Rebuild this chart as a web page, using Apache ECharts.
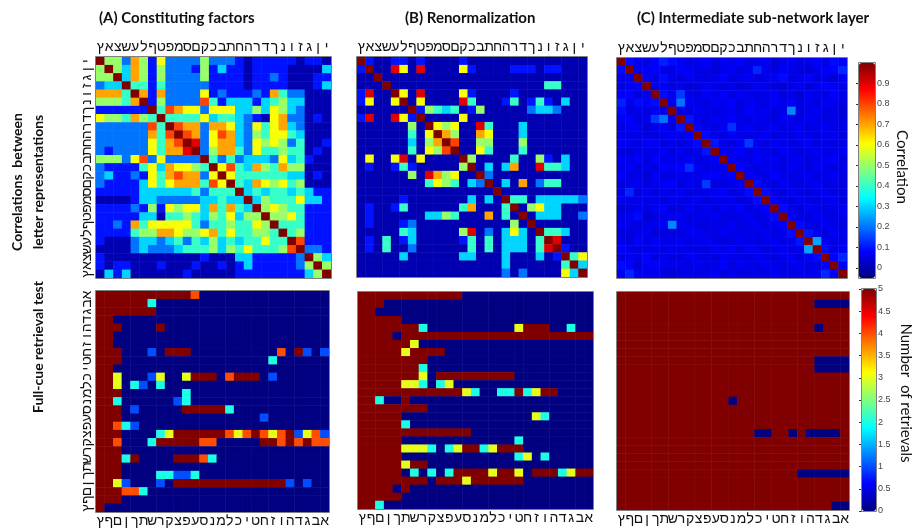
<!DOCTYPE html>
<html>
<head>
<meta charset="utf-8">
<script src="https://cdn.jsdelivr.net/npm/echarts@6/dist/echarts.min.js"></script>
<style>
  html, body { margin: 0; padding: 0; background: #fff; }
  #chart { width: 913px; height: 528px; }
</style>
</head>
<body>
<div id="chart"></div>
<script>
// Letter order of the correlation matrices (columns, left to right)
const topLetters = ['ץ','א','צ','ש','ע','ל','ף','ט','פ','מ','ס','ם','ק','כ','ב','ת','ח','ה','ר','ד','ך','נ','ו','ז','ג','ן','י'];
// Row labels of the correlation matrices (top to bottom)
const topRowLetters = ['י','ן','ג','ז','ו','נ','ך','ד','ר','ה','ח','ת','ב','כ','ק','ם','ס','מ','פ','ט','ף','ל','ע','ש','צ','א','ץ'];
// Letter order of the retrieval tables (columns, left to right)
const bottomLetters = ['ץ','ף','ם','ן','ך','ת','ש','ר','ק','צ','פ','ע','ס','נ','מ','ל','כ','י','ט','ח','ז','ו','ה','ד','ג','ב','א'];
// Row labels of the retrieval tables (top to bottom)
const bottomRowLetters = ['א','ב','ג','ד','ה','ו','ז','ח','ט','י','כ','ל','מ','נ','ס','ע','פ','צ','ק','ר','ש','ת','ך','ן','ם','ף','ץ'];

// (A) correlations, one string per row, each digit = tenths, X = 1
const corrFactors = [
  "X55275162222522210111110110",
  "5X5375152221513110111100003",
  "55X375152222511110112100011",
  "233X44142222211110111100013",
  "7774X7172222612111217422000",
  "55547X152222841333134533000",
  "111111X48766266633536532000",
  "6554754X4444634432106722010",
  "22222284X877277632646732000",
  "222222748X87268732546643000",
  "2222226478X9267732656524001",
  "21222264779X257742644544010",
  "555268262222X42423332634100",
  "2111146376654X6843754755000",
  "23112164787726X644444433010",
  "211113646777486X43765645000",
  "1111133333342444X3434434311",
  "00001332222233433X354446331",
  "111121516566374743X56544111",
  "1111133044543546355X5564111",
  "11217466666424454465X444111",
  "111145577655674644554X45111",
  "1000233234243534344644X8111",
  "00002322234445354644458X221",
  "100000000000100033111112X53",
  "1011000100010010131111125X5",
  "03130000001000001111111135X"
];

// (B) correlations after renormalization, same encoding
const corrRenorm = [
  "X10011010000100000000000000",
  "1X0096090000610000111011000",
  "00X000000000000000000000000",
  "000X00000000000000000044000",
  "1900X6090000610000100000000",
  "16006X060000940001401410300",
  "000000X15434015000002332000",
  "1900961X0000600000000000000",
  "00000050X656009400030000000",
  "000000406X75007600030000000",
  "0000003057X8005500050000000",
  "00000040658X006400040000000",
  "060069060000X50000400510300",
  "0100141000005X0303700944300",
  "00000050975600X200000000000",
  "000000004654032X03070244000",
  "0000000000000000X0000000000",
  "00000100000003030X440333332",
  "010014000000470004X05633000",
  "0100000033540007040X0333002",
  "01000120000000000050X000000",
  "000004300000590203630X44300",
  "0104013000001404033304X9000",
  "01040020000004040333049X100",
  "000003000000330003000301X46",
  "0000000000000000030000004X3",
  "00000000000000000202000063X"
];

// (C) correlations in the intermediate layer, hundredths
const corrLayer = [
  [100,9,6,5,8,11,9,7,5,6,8,5,7,6,8,5,6,7,4,6,7,5,6,8,5,9,7],
  [9,100,6,7,8,6,5,8,7,5,6,4,6,7,5,6,12,6,5,7,6,5,4,6,7,8,12],
  [6,6,100,7,5,9,6,5,7,6,5,6,8,5,6,7,5,6,7,9,5,6,8,5,6,4,7],
  [5,7,7,100,6,8,5,6,4,5,7,6,5,6,4,5,7,6,5,4,6,7,5,6,8,7,6],
  [8,8,5,6,100,9,7,14,6,5,7,6,8,5,7,6,5,6,7,5,6,4,7,6,5,8,6],
  [11,6,9,8,9,100,6,20,7,6,5,7,6,8,5,7,6,5,8,6,7,5,6,5,7,6,5],
  [9,5,6,5,7,6,100,6,5,7,6,5,6,7,5,8,6,7,5,6,22,5,6,7,5,6,4],
  [7,8,5,6,14,20,6,100,10,6,5,7,6,8,6,5,7,6,5,7,6,5,7,6,5,6,5],
  [5,7,7,4,6,7,5,10,100,8,6,5,7,13,6,7,5,6,7,5,6,7,5,6,7,5,6],
  [6,5,6,5,5,6,7,6,8,100,9,6,5,7,6,5,6,7,5,6,5,7,6,5,6,7,5],
  [8,6,5,7,7,5,6,5,6,9,100,10,6,5,7,14,6,5,7,6,5,6,7,5,6,5,6],
  [5,4,6,6,6,7,5,7,5,6,10,100,7,6,8,5,7,6,5,7,6,5,6,7,5,6,7],
  [7,6,8,5,8,6,6,6,7,5,6,7,100,7,6,5,8,6,7,5,6,7,5,6,7,8,5],
  [6,7,5,6,5,8,7,8,13,7,5,6,7,100,8,6,5,7,6,5,7,6,5,7,6,5,6],
  [8,5,6,4,7,5,5,6,6,6,7,8,6,8,100,7,6,5,8,6,5,6,7,5,6,7,5],
  [5,6,7,5,6,7,8,5,7,5,14,5,5,6,7,100,9,6,5,7,6,5,6,7,5,6,5],
  [6,12,5,7,5,6,6,7,5,6,6,7,8,5,6,9,100,9,6,5,7,6,5,6,7,5,6],
  [7,6,6,6,6,5,7,6,6,7,5,6,6,7,5,6,9,100,8,6,5,7,6,5,6,7,5],
  [4,5,7,5,7,8,5,5,7,5,7,5,7,6,8,5,6,8,100,9,6,5,7,6,5,6,7],
  [6,7,9,4,5,6,6,7,5,6,6,7,5,5,6,7,5,6,9,100,8,6,5,7,6,5,6],
  [7,6,5,6,6,7,22,6,6,5,5,6,6,7,5,6,7,5,6,8,100,9,6,5,7,6,5],
  [5,5,6,7,4,5,5,5,7,7,6,5,7,6,6,5,6,7,5,6,9,100,10,6,5,7,6],
  [6,4,8,5,7,6,6,7,5,6,7,6,5,5,7,6,5,6,7,5,6,10,100,25,7,5,6],
  [8,6,5,6,6,5,7,6,6,5,5,7,6,7,5,7,6,5,6,7,5,6,25,100,9,6,7],
  [5,7,6,8,5,7,5,5,7,6,6,5,7,6,6,5,7,6,5,6,7,5,7,9,100,8,12],
  [9,8,4,7,8,6,6,6,5,7,5,6,8,5,7,6,5,7,6,5,6,7,5,6,8,100,7],
  [7,12,7,6,6,5,4,5,6,5,6,7,5,6,5,5,6,5,7,6,5,6,6,7,12,7,100]
];

// Full-cue retrieval counts (0-5), one digit per cell
const retrFactors = [
  "555555555554000000000000000",
  "555555200000000000000000000",
  "555555500000000000000000000",
  "550000000000000000000000000",
  "555000050000000000000000000",
  "550000000000000000000000000",
  "550000000000000000000000000",
  "555000105550000000000405101",
  "555000000000000000002000000",
  "550000000000000000000000000",
  "553000130035550455501000000",
  "553021020000000000000000000",
  "555000000020000000000000000",
  "552000000120000000000000000",
  "555010000055555200000000000",
  "555000000000000000010000000",
  "554210000000000000000000000",
  "555000023555555434543451341",
  "554000255555440000055454544",
  "555000000000000000000000000",
  "555250000555420000000000000",
  "555000000000000000000000000",
  "555000022112000000000000000",
  "553100010555555555555510100",
  "555442000000000000000000000",
  "555000000000000000000000000",
  "500000000000000000000000000"
];

const retrRenorm = [
  "555555555555000000000000000",
  "555000000000000000000000000",
  "550000000000000000000000000",
  "555550000000000000000000000",
  "555555520000000000355500200",
  "555505555555555555555555555",
  "555555300000000000000000000",
  "555553555500000000000000000",
  "555555550000000000000000000",
  "555555520000000000000000000",
  "555555530555555555000000000",
  "555553320230000000000000000",
  "555555555555320022523550000",
  "552005000000000000000000000",
  "555555550000000000000000000",
  "555550000000000000003200000",
  "555552000000000000000000000",
  "555555555555500000000000000",
  "555550000000000000200000000",
  "555553332023552355500000000",
  "555550000000000000230200000",
  "555553550000000000000000000",
  "555550202025555355305552355",
  "555555550555355555500000000",
  "555505000000000000000000000",
  "555550000000000000000000000",
  "552000000000000000000000000"
];

const retrLayer = [
  "555555555555555555555555555",
  "555555555555555555555550000",
  "555555555555555555555555555",
  "555555555555555555555555555",
  "555555555555555555555550555",
  "555555555555555555555555555",
  "555555555555555555555555555",
  "555555555555555555555555555",
  "555555555555555555555550000",
  "555555555555555555555550000",
  "555555555555555555555555555",
  "555555555555555555555555555",
  "555555555555555555555555555",
  "555555555555505555555555555",
  "555555555555555555555555555",
  "555555555555555555555555555",
  "555555555555555555555555555",
  "555555555555555500550500005",
  "555555555555555555555555555",
  "555555555555555555555555555",
  "555555555555555555555555555",
  "555555555555555555555555555",
  "555555555555555555555000000",
  "555555555555555555555555555",
  "555555555555555555555555555",
  "555555555555555555555555555",
  "555555555555555555555555500"
];

// Colour-bar tick values
const corrTicks = [0, 0.1, 0.2, 0.3, 0.4, 0.5, 0.6, 0.7, 0.8, 0.9];
const retrTickStep = 0.5;

// Jet colour map stops (evenly spaced)
const JET = ['#000080', '#0000ff', '#0080ff', '#00ffff', '#80ff80', '#ffff00', '#ff8000', '#ff0000', '#800000'];

function fromTenths(rows) {
  const out = [];
  rows.forEach((row, r) => {
    Array.from(row).forEach((ch, c) => out.push([c, r, ch === 'X' ? 1 : Number(ch) / 10]));
  });
  return out;
}
function fromHundredths(rows) {
  const out = [];
  rows.forEach((row, r) => row.forEach((v, c) => out.push([c, r, v / 100])));
  return out;
}
function fromCounts(rows) {
  const out = [];
  rows.forEach((row, r) => {
    Array.from(row).forEach((ch, c) => out.push([c, r, Number(ch)]));
  });
  return out;
}

const LETTER_FONT = 'Liberation Sans, DejaVu Sans, sans-serif';
const TEXT_FONT = 'Lato, Open Sans, sans-serif';

// Panel rectangles: three correlation maps on top, three retrieval tables below
const panels = [
  { left: 96,  top: 57,  width: 235, height: 221 },
  { left: 357, top: 57,  width: 230, height: 220 },
  { left: 617, top: 58,  width: 230, height: 220 },
  { left: 96,  top: 291, width: 233, height: 221 },
  { left: 358, top: 292, width: 235, height: 217 },
  { left: 617, top: 292, width: 232, height: 218 }
];
const corrBar = { left: 859, top: 63, width: 16, height: 215 };
const retrBar = { left: 862, top: 289, width: 14, height: 222 };

const seriesData = [
  fromTenths(corrFactors),
  fromTenths(corrRenorm),
  fromHundredths(corrLayer),
  fromCounts(retrFactors),
  fromCounts(retrRenorm),
  fromCounts(retrLayer)
];

const grid = panels.map(p => ({ left: p.left, top: p.top, width: p.width, height: p.height }));
grid.push({ left: corrBar.left, top: corrBar.top, width: corrBar.width, height: corrBar.height });
grid.push({ left: retrBar.left, top: retrBar.top, width: retrBar.width, height: retrBar.height });

const xAxis = panels.map((p, i) => ({
  gridIndex: i,
  type: 'category',
  data: i < 3 ? topLetters : bottomLetters,
  position: i < 3 ? 'top' : 'bottom',
  axisLine: { show: false },
  axisTick: { show: false },
  splitLine: { show: false },
  axisLabel: { interval: 0, fontSize: 14, color: '#111', fontFamily: LETTER_FONT, margin: i < 3 ? 3 : 2 }
}));
const yAxis = panels.map((p, i) => ({
  gridIndex: i,
  type: 'category',
  inverse: true,
  data: i < 3 ? topRowLetters : bottomRowLetters,
  axisLine: { show: false },
  axisTick: { show: false },
  splitLine: { show: false },
  axisLabel: { show: i === 0 || i === 3, interval: 0, rotate: 90, fontSize: 14, color: '#111', fontFamily: LETTER_FONT, margin: 2 }
}));

// Colour-bar scales
xAxis.push({ gridIndex: 6, type: 'value', show: false, min: 0, max: 1 });
xAxis.push({ gridIndex: 7, type: 'value', show: false, min: 0, max: 1 });
yAxis.push({
  gridIndex: 6, type: 'value', position: 'right', min: -0.05, max: 1,
  axisLine: { show: false }, splitLine: { show: false },
  axisTick: { show: true, inside: true, length: 3, customValues: corrTicks, lineStyle: { color: '#333' } },
  axisLabel: { customValues: corrTicks, fontSize: 9, color: '#444', margin: 2, fontFamily: 'Liberation Sans, sans-serif' }
});
yAxis.push({
  gridIndex: 7, type: 'value', position: 'right', min: 0, max: 5, interval: retrTickStep,
  axisLine: { show: false }, splitLine: { show: false },
  axisTick: { show: true, inside: true, length: 3, lineStyle: { color: '#333' } },
  axisLabel: { fontSize: 9, color: '#444', margin: 2, fontFamily: 'Liberation Sans, sans-serif' }
});

const series = seriesData.map((data, i) => ({
  type: 'heatmap',
  xAxisIndex: i,
  yAxisIndex: i,
  data: data,
  itemStyle: { borderWidth: 0 },
  emphasis: { disabled: true },
  progressive: 0,
  animation: false
}));

function rotatedText(x, y, text, font, angle) {
  return {
    type: 'text', x: x, y: y, rotation: angle, silent: true, z: 10,
    style: { text: text, font: font, fill: '#111', align: 'center', verticalAlign: 'middle', textAlign: 'center', textVerticalAlign: 'middle' }
  };
}
function frame(b) {
  return {
    type: 'rect', silent: true, z: 20,
    shape: { x: b.left - 0.5, y: b.top - 0.5, width: b.width + 1, height: b.height + 1 },
    style: { fill: 'none', stroke: '#808080', lineWidth: 1 }
  };
}
function title(x, text) {
  return {
    type: 'text', x: x, y: 18, silent: true, z: 10,
    style: { text: text, font: 'bold 15px ' + TEXT_FONT, fill: '#111', align: 'left', verticalAlign: 'middle', textAlign: 'left', textVerticalAlign: 'middle' }
  };
}

const graphic = [
  title(99, '(A) Constituting factors'),
  title(405, '(B) Renormalization'),
  title(637, '(C) Intermediate sub-network layer'),
  rotatedText(17, 182, 'Correlations  between', 'bold 14px ' + TEXT_FONT, Math.PI / 2),
  rotatedText(38, 182, 'letter representations', 'bold 14px ' + TEXT_FONT, Math.PI / 2),
  rotatedText(38, 347, 'Full-cue retrieval test', 'bold 14px ' + TEXT_FONT, Math.PI / 2),
  rotatedText(902, 167, 'Correlation', '15px ' + TEXT_FONT, -Math.PI / 2),
  rotatedText(906, 393, 'Number  of retrievals', '15px ' + TEXT_FONT, -Math.PI / 2)
].concat(panels.map(frame)).concat([frame(corrBar), frame(retrBar)]);

const chart = echarts.init(document.getElementById('chart'), null, { renderer: 'canvas', width: 913, height: 528 });
chart.setOption({
  animation: false,
  backgroundColor: '#ffffff',
  grid: grid,
  xAxis: xAxis,
  yAxis: yAxis,
  visualMap: [
    {
      type: 'continuous', seriesIndex: [0, 1, 2], min: -0.05, max: 1,
      inRange: { color: JET }, calculable: false, hoverLink: false, padding: 0,
      orient: 'vertical', left: corrBar.left, top: corrBar.top,
      itemWidth: corrBar.width, itemHeight: corrBar.height, text: null
    },
    {
      type: 'continuous', seriesIndex: [3, 4, 5], min: 0, max: 5,
      inRange: { color: JET }, calculable: false, hoverLink: false, padding: 0,
      orient: 'vertical', left: retrBar.left, top: retrBar.top,
      itemWidth: retrBar.width, itemHeight: retrBar.height, text: null
    }
  ],
  series: series,
  graphic: graphic
});
</script>
</body>
</html>
